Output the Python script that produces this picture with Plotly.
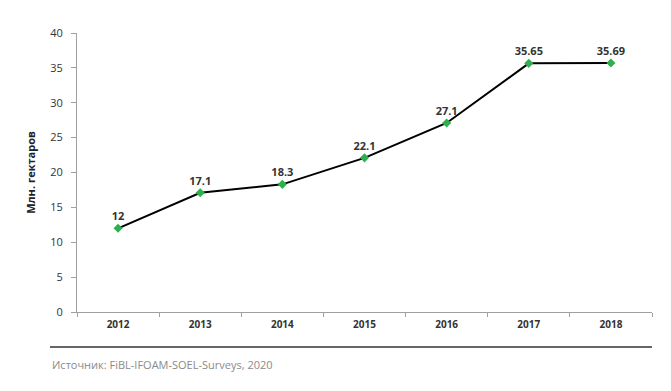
import plotly.graph_objects as go

years = ["2012", "2013", "2014", "2015", "2016", "2017", "2018"]
values = [12, 17.1, 18.3, 22.1, 27.1, 35.65, 35.69]
labels = ["12", "17.1", "18.3", "22.1", "27.1", "35.65", "35.69"]
y_ticks = [0, 5, 10, 15, 20, 25, 30, 35, 40]

# page body has an 8px margin, so the figure is sized/offset accordingly
W, H = 663, 383
L, R, T, B = 69, 19, 25, 79

fig = go.Figure()
fig.add_trace(go.Scatter(
    x=years, y=values, mode="lines+markers+text",
    text=labels, textposition="top center",
    textfont=dict(family="Open Sans", size=11, color="#333333", weight="bold"),
    line=dict(color="#000000", width=2),
    marker=dict(symbol="diamond", size=7, color="#2eb04f"),
    cliponaxis=False, showlegend=False,
))

fig.update_layout(
    width=W, height=H,
    margin=dict(l=L, r=R, t=T, b=B),
    paper_bgcolor="white", plot_bgcolor="white",
    font=dict(family="Open Sans", size=11, color="#333333"),
)
fig.update_xaxes(
    type="category", tickson="boundaries", ticks="outside", ticklen=4,
    tickcolor="#a0a0a0", showline=True, linecolor="#a0a0a0", linewidth=1,
    showgrid=False, tickfont=dict(size=10, weight="bold", color="#333333"),
    range=[-0.5, 6.5], automargin=False, ticklabelstandoff=3,
)
fig.update_yaxes(
    range=[0, 40], tickvals=y_ticks, ticks="outside", ticklen=5,
    tickcolor="#a0a0a0", showline=True, linecolor="#a0a0a0", linewidth=1,
    showgrid=False, zeroline=False, tickfont=dict(size=11, color="#333333"),
    automargin=False, ticklabelstandoff=6,
    title=dict(text="Млн. гектаров", font=dict(size=11, weight="bold", color="#222222"), standoff=12),
)

# separator line and source
ly = -(339 - (H - B)) / (H - T - B)
fig.add_shape(type="line", xref="paper", yref="paper",
              x0=(42 - L) / (W - L - R), x1=1.0, y0=ly, y1=ly,
              line=dict(color="#333333", width=1.5))
fig.add_annotation(xref="paper", yref="paper",
                   x=(42 - L) / (W - L - R), y=-(356 - (H - B)) / (H - T - B),
                   xanchor="left", yanchor="middle", showarrow=False,
                   text="Источник: FiBL-IFOAM-SOEL-Surveys, 2020",
                   font=dict(size=11, color="#8a8a8a"))

fig.write_html("out.html")
